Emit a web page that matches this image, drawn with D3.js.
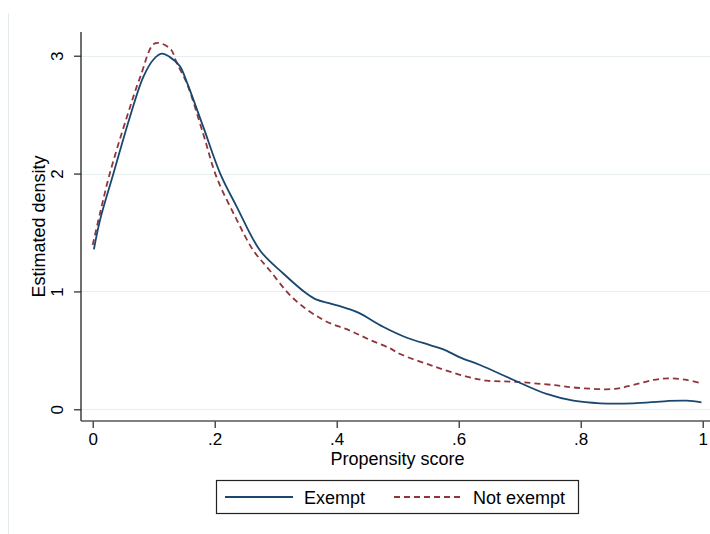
<!DOCTYPE html>
<html>
<head>
<meta charset="utf-8">
<script src="https://cdn.jsdelivr.net/npm/d3@7"></script>
<style>
  html, body { margin: 0; padding: 0; background: #ffffff; }
  svg { display: block; }
  text { font-family: "Liberation Sans", Arial, sans-serif; fill: #000; }
</style>
</head>
<body>
<svg id="chart" width="710" height="534"></svg>
<script>
// ---- data ----
const exemptX = [0.002, 0.012, 0.034, 0.061, 0.083, 0.100, 0.113, 0.126, 0.143, 0.154, 0.181, 0.209, 0.236, 0.274, 0.312, 0.350, 0.367, 0.389, 0.422, 0.438, 0.476, 0.515, 0.553, 0.575, 0.602, 0.635, 0.690, 0.744, 0.788, 0.832, 0.886, 0.941, 0.974, 0.998];
const exemptY = [1.357, 1.605, 2.000, 2.480, 2.820, 2.970, 3.017, 2.990, 2.910, 2.780, 2.400, 2.000, 1.720, 1.350, 1.154, 0.984, 0.930, 0.899, 0.848, 0.814, 0.700, 0.607, 0.545, 0.509, 0.440, 0.376, 0.249, 0.130, 0.073, 0.051, 0.051, 0.070, 0.073, 0.059];
const notExemptX = [0.000, 0.012, 0.028, 0.056, 0.078, 0.102, 0.127, 0.138, 0.154, 0.181, 0.203, 0.236, 0.263, 0.290, 0.329, 0.378, 0.422, 0.455, 0.487, 0.504, 0.558, 0.613, 0.646, 0.690, 0.755, 0.793, 0.853, 0.886, 0.919, 0.946, 0.974, 0.998];
const notExemptY = [1.394, 1.663, 2.000, 2.480, 2.820, 3.105, 3.060, 2.935, 2.770, 2.340, 1.970, 1.610, 1.350, 1.180, 0.940, 0.758, 0.667, 0.588, 0.518, 0.469, 0.367, 0.277, 0.243, 0.234, 0.206, 0.183, 0.172, 0.206, 0.249, 0.263, 0.249, 0.220];
const xTicks = [0, 0.2, 0.4, 0.6, 0.8, 1];
const xTickLabels = ["0", ".2", ".4", ".6", ".8", "1"];
const yTicks = [0, 1, 2, 3];
const yTickLabels = ["0", "1", "2", "3"];
const seriesNames = ["Exempt", "Not exempt"];
const xTitle = "Propensity score";
const yTitle = "Estimated density";

// ---- layout ----
const svg = d3.select("#chart");
const plotLeft = 81, plotRight = 714, plotTop = 32, plotBottom = 421;
const x = d3.scaleLinear().domain([0, 1]).range([92.7, 702.7]);
const y = d3.scaleLinear().domain([0, 3]).range([409.3, 55.7]);
const FONT = "'Liberation Sans', Arial, sans-serif";

// faint outer graph-region border (only left edge visible)
svg.append("line")
  .attr("x1", 8.5).attr("x2", 8.5).attr("y1", 13).attr("y2", 534)
  .attr("stroke", "#e4ecee").attr("stroke-width", 1);

// gridlines
svg.append("g").selectAll("line").data(yTicks).join("line")
  .attr("x1", plotLeft).attr("x2", plotRight)
  .attr("y1", d => Math.round(y(d)) + 0.5).attr("y2", d => Math.round(y(d)) + 0.5)
  .attr("stroke", "#e6eef0").attr("stroke-width", 1.2);

// y axis
const yAxis = d3.axisLeft(y).tickValues(yTicks).tickFormat((d, i) => yTickLabels[i]).tickSize(7).tickPadding(10);
const gy = svg.append("g").attr("transform", `translate(${plotLeft},0)`).call(yAxis);
gy.attr("font-size", null).attr("font-family", null);
gy.select(".domain").remove();
gy.selectAll(".tick line").attr("stroke", "#222").attr("stroke-width", 1.2);
gy.selectAll(".tick text")
  .style("font-size", "17px").style("font-family", FONT).attr("fill", "#000")
  .attr("text-anchor", "middle")
  .attr("x", 0).attr("y", 0).attr("dy", null)
  .attr("transform", "translate(-18,0) rotate(-90)");
svg.append("line").attr("x1", plotLeft).attr("x2", plotLeft).attr("y1", plotTop).attr("y2", plotBottom)
  .attr("stroke", "#222").attr("stroke-width", 1.3);

// x axis
const xAxis = d3.axisBottom(x).tickValues(xTicks).tickFormat((d, i) => xTickLabels[i]).tickSize(7).tickPadding(5);
const gx = svg.append("g").attr("transform", `translate(0,${plotBottom})`).call(xAxis);
gx.attr("font-size", null).attr("font-family", null);
gx.select(".domain").remove();
gx.selectAll(".tick line").attr("stroke", "#222").attr("stroke-width", 1.2);
gx.selectAll(".tick text").style("font-size", "17px").style("font-family", FONT).attr("fill", "#000")
  .attr("y", 24).attr("dy", null);
svg.append("line").attr("x1", plotLeft).attr("x2", plotRight).attr("y1", plotBottom).attr("y2", plotBottom)
  .attr("stroke", "#555").attr("stroke-width", 1.6);

// titles
svg.append("text").attr("x", (plotLeft + plotRight) / 2).attr("y", 465)
  .attr("text-anchor", "middle").style("font-size", "18px").text(xTitle);
svg.append("text").attr("transform", `translate(45,${(plotTop + plotBottom) / 2}) rotate(-90)`)
  .attr("text-anchor", "middle").style("font-size", "18px").text(yTitle);

// curves
const line = d3.line().x(d => x(d[0])).y(d => y(d[1])).curve(d3.curveCatmullRom.alpha(0.5));
const exemptData = exemptX.map((v, i) => [v, exemptY[i]]);
const notExemptData = notExemptX.map((v, i) => [v, notExemptY[i]]);
svg.append("path").datum(notExemptData).attr("d", line)
  .attr("fill", "none").attr("stroke", "#90353b").attr("stroke-width", 1.8).attr("stroke-dasharray", "6,4");
svg.append("path").datum(exemptData).attr("d", line)
  .attr("fill", "none").attr("stroke", "#1a476f").attr("stroke-width", 1.8);

// legend
const lg = svg.append("g");
lg.append("rect").attr("x", 216.5).attr("y", 480.5).attr("width", 362).attr("height", 33)
  .attr("fill", "#fff").attr("stroke", "#222").attr("stroke-width", 1.2);
lg.append("line").attr("x1", 225).attr("x2", 293).attr("y1", 497).attr("y2", 497)
  .attr("stroke", "#1a476f").attr("stroke-width", 1.8);
lg.append("text").attr("x", 304).attr("y", 503.5).style("font-size", "18px").text(seriesNames[0]);
lg.append("line").attr("x1", 394).attr("x2", 462).attr("y1", 497).attr("y2", 497)
  .attr("stroke", "#90353b").attr("stroke-width", 1.8).attr("stroke-dasharray", "6,4");
lg.append("text").attr("x", 473).attr("y", 503.5).style("font-size", "18px").text(seriesNames[1]);
</script>
</body>
</html>
